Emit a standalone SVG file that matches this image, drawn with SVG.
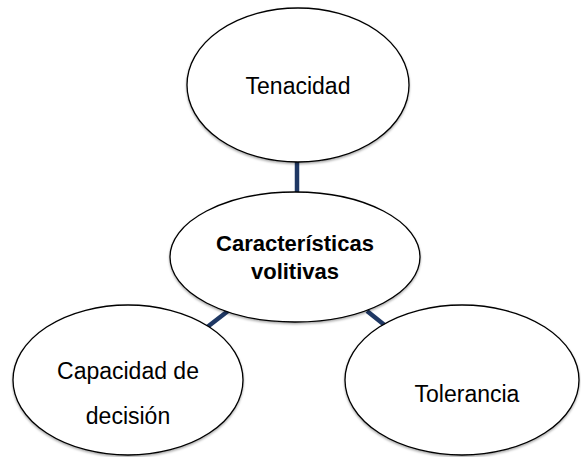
<svg xmlns="http://www.w3.org/2000/svg" width="581" height="457" viewBox="0 0 581 457">
<defs>
<filter id="sh" x="-10%" y="-10%" width="120%" height="125%">
<feDropShadow dx="0" dy="1.5" stdDeviation="1.2" flood-color="#000" flood-opacity="0.35"/>
</filter>
<style>
.node ellipse{fill:#fff;stroke:#000;stroke-width:1.3;filter:url(#sh)}
.node text{font-family:"Liberation Sans",Arial,sans-serif;font-size:23px;fill:#000;text-anchor:middle}
.node text.b{font-weight:bold;font-size:22px}
#connectors line{stroke:#1F3864;stroke-width:4.5}
</style>
</defs>
<rect width="581" height="457" fill="#fff"/>
<g id="connectors">
<line x1="297" y1="162" x2="297" y2="193"/>
<line x1="228" y1="311" x2="206" y2="328"/>
<line x1="367" y1="311" x2="387" y2="327"/>
</g>
<g id="tenacidad" class="node">
<ellipse cx="298" cy="85" rx="111" ry="77"/>
<text x="298" y="94">Tenacidad</text>
</g>
<g id="caracteristicas" class="node">
<ellipse cx="295" cy="257" rx="125" ry="65"/>
<text class="b" x="295" y="251">Características</text>
<text class="b" x="295" y="279">volitivas</text>
</g>
<g id="capacidad" class="node">
<ellipse cx="128" cy="380" rx="115" ry="75"/>
<text x="128" y="379">Capacidad de</text>
<text x="128" y="424">decisión</text>
</g>
<g id="tolerancia" class="node">
<ellipse cx="462" cy="380" rx="117" ry="75"/>
<text x="467" y="402">Tolerancia</text>
</g>
</svg>
